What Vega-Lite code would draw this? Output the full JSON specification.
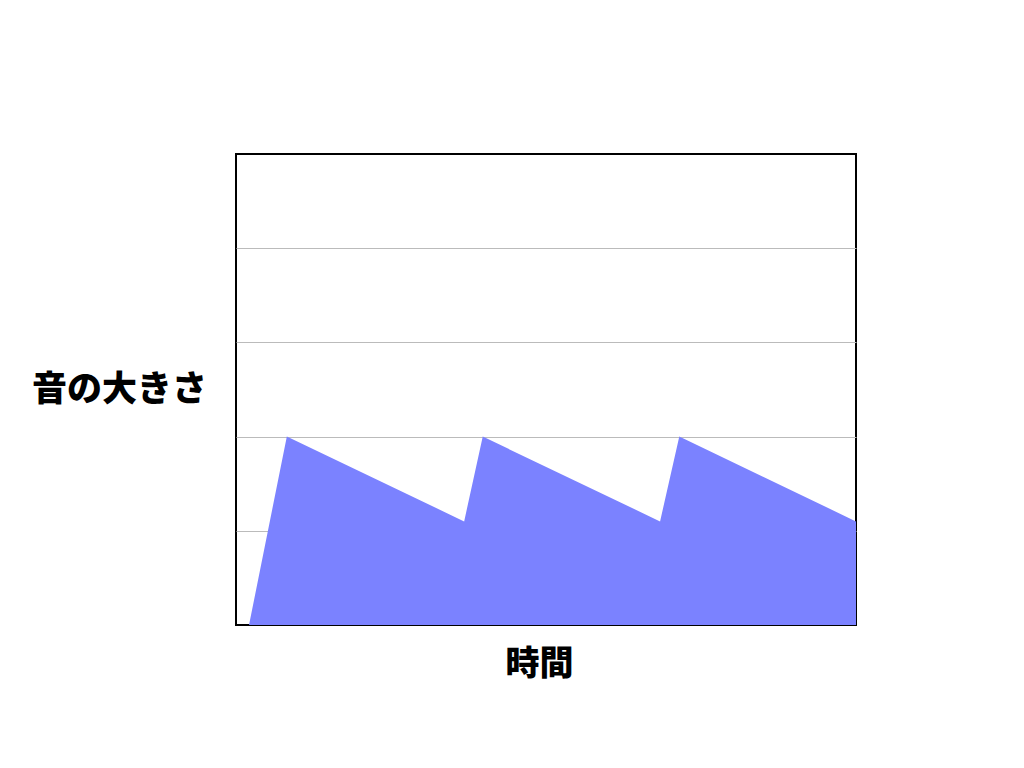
{
  "$schema": "https://vega.github.io/schema/vega-lite/v6.json",
  "width": 620,
  "height": 471,
  "autosize": {"type": "none"},
  "padding": {"left": 236, "top": 154, "right": 168, "bottom": 143},
  "background": "white",
  "config": {
    "view": {"stroke": "black", "strokeWidth": 2},
    "font": "Noto Sans CJK JP"
  },
  "data": {
    "values": [
      {"time": 0.21, "level": 0},
      {"time": 0.82, "level": 2},
      {"time": 3.68, "level": 1.1},
      {"time": 3.98, "level": 2},
      {"time": 6.84, "level": 1.1},
      {"time": 7.15, "level": 2},
      {"time": 10, "level": 1.1}
    ]
  },
  "mark": {"type": "area", "color": "#7b82ff", "opacity": 1, "interpolate": "linear"},
  "encoding": {
    "x": {
      "field": "time",
      "type": "quantitative",
      "scale": {"domain": [0, 10], "nice": false, "zero": false},
      "axis": {
        "title": "時間",
        "labels": false,
        "ticks": false,
        "domain": false,
        "grid": false,
        "titleFont": "Noto Sans CJK JP",
        "titleFontSize": 34,
        "titleFontWeight": 900,
        "titleColor": "black",
        "titleAlign": "center",
        "titleBaseline": "middle",
        "titleX": 303,
        "titleY": 39
      }
    },
    "y": {
      "field": "level",
      "type": "quantitative",
      "scale": {"domain": [0, 5], "nice": false},
      "axis": {
        "title": "音の大きさ",
        "values": [1, 2, 3, 4],
        "labels": false,
        "ticks": false,
        "domain": false,
        "grid": true,
        "gridColor": "#bbbbbb",
        "gridWidth": 1,
        "titleAngle": 0,
        "titleFont": "Noto Sans CJK JP",
        "titleFontSize": 35,
        "titleFontWeight": 900,
        "titleColor": "black",
        "titleAlign": "center",
        "titleBaseline": "middle",
        "titleX": -117,
        "titleY": 235
      }
    }
  }
}
